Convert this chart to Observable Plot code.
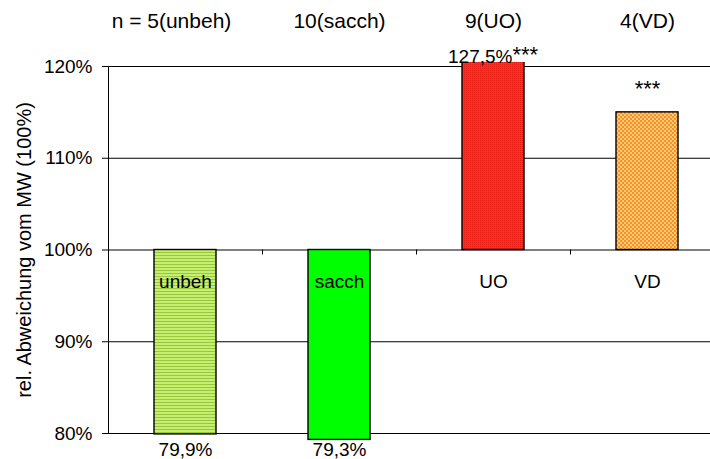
<!DOCTYPE html>
<html><head><meta charset="utf-8">
<script src="https://cdn.jsdelivr.net/npm/d3@7"></script>
<script src="https://cdn.jsdelivr.net/npm/@observablehq/plot@0.6"></script>
<style>body{margin:0;background:#fff} svg{display:block}</style>
</head><body><div id="chart"></div>
<script>
const categories = ["unbeh", "sacch", "UO", "VD"];
const values = [79.9, 79.3, 127.5, 115.0];
const counts = [5, 10, 9, 4];
const valueLabels = ["79,9%", "79,3%", "127,5%", ""];
const significance = ["", "", "***", "***"];
const yTicks = [80, 90, 100, 110, 120];
const yTickLabels = ["80%", "90%", "100%", "110%", "120%"];
const baseline = 100;
const yTitle = "rel. Abweichung vom MW (100%)";
const fills = ["url(#pat-unbeh)", "#00ff00", "url(#pat-uo)", "url(#pat-vd)"];

const data = categories.map((c, i) => ({
  cat: c, value: values[i], n: counts[i], label: valueLabels[i], sig: significance[i], fill: fills[i],
  top: (i === 0 ? "n = " : "") + counts[i] + "(" + c + ")"
}));
const yMin = d3.min(yTicks), yMax = d3.max(yTicks);

const W = 710, H = 459, mL = 108, mR = -14, mT = 66, mB = 26;
const step = (W - mL - mR) / categories.length;
const font = "'Liberation Sans', Arial, sans-serif";

const chart = Plot.plot({
  width: W, height: H,
  marginLeft: mL, marginRight: mR, marginTop: mT, marginBottom: mB,
  style: {fontFamily: font, fontSize: "19px", background: "white", color: "black"},
  x: {domain: categories, paddingInner: 0.6, paddingOuter: 0.3, axis: null},
  y: {domain: [yMin, yMax], axis: null},
  color: {type: "identity"},
  marks: [
    Plot.ruleY(yTicks, {stroke: "#000", strokeWidth: 1}),
    Plot.barY(data, {x: "cat", y1: baseline, y2: "value", fill: "fill", stroke: "#000", strokeWidth: 1.4}),
    Plot.ruleX(categories, {x: d => d, dx: step / 2, y1: baseline, y2: baseline, insetBottom: -5, stroke: "#000"}),
    Plot.axisY(yTicks, {tickSize: 6, tickPadding: 10, fontSize: 19, label: null,
      tickFormat: d => yTickLabels[yTicks.indexOf(d)]}),
    Plot.frame({anchor: "left", stroke: "#000"}),
    Plot.text([yTitle], {text: d => d, frameAnchor: "left", textAnchor: "middle", rotate: -90, dx: -84, fontSize: 20}),
    Plot.text(data, {x: "cat", y: baseline, text: "cat", dy: 32, fontSize: 19}),
    Plot.text(data.filter(d => d.label && d.value < yMin), {x: "cat", y: yMin, text: "label", dy: 16, fontSize: 19}),
    Plot.text(data.filter(d => d.label && d.value > yMax), {x: "cat", y: yMax, text: "label", textAnchor: "end", dx: 19, dy: -10, fontSize: 19}),
    Plot.text(data.filter(d => d.sig && d.value > yMax), {x: "cat", y: yMax, text: "sig", textAnchor: "start", dx: 19, dy: -12, fontSize: 22}),
    Plot.text(data.filter(d => d.sig && d.value <= yMax), {x: "cat", y: "value", text: "sig", dy: -23, fontSize: 22}),
    Plot.text(data.slice(0, 1), {x: "cat", y: yMax, text: "top", dx: -14, dy: -45, fontSize: 21}),
    Plot.text(data.slice(1), {x: "cat", y: yMax, text: "top", dy: -45, fontSize: 21})
  ]
});

const svg = d3.select(chart);
const defs = svg.insert("defs", ":first-child");
const p1 = defs.append("pattern").attr("id", "pat-unbeh").attr("patternUnits", "userSpaceOnUse").attr("width", 4).attr("height", 3);
p1.append("rect").attr("width", 4).attr("height", 3).attr("fill", "#c6ee74");
p1.append("rect").attr("width", 4).attr("height", 1).attr("fill", "#96c935");
const p2 = defs.append("pattern").attr("id", "pat-uo").attr("patternUnits", "userSpaceOnUse").attr("width", 2).attr("height", 2);
p2.append("rect").attr("width", 2).attr("height", 2).attr("fill", "#ff2e20");
p2.append("rect").attr("width", 1).attr("height", 1).attr("fill", "#e41a10");
const p3 = defs.append("pattern").attr("id", "pat-vd").attr("patternUnits", "userSpaceOnUse").attr("width", 4).attr("height", 4);
p3.append("rect").attr("width", 4).attr("height", 4).attr("fill", "#ffcf6c");
p3.append("rect").attr("x", 0).attr("y", 0).attr("width", 2).attr("height", 2).attr("fill", "#ff8a30");
p3.append("rect").attr("x", 2).attr("y", 2).attr("width", 2).attr("height", 2).attr("fill", "#ff8a30");
const ys = chart.scale("y");
defs.append("clipPath").attr("id", "bar-clip").append("rect")
  .attr("x", 0).attr("y", ys.apply(yMax) - 4).attr("width", W).attr("height", H);
svg.select('g[aria-label="bar"]').attr("clip-path", "url(#bar-clip)");

document.getElementById("chart").appendChild(chart);
</script>
</body></html>
